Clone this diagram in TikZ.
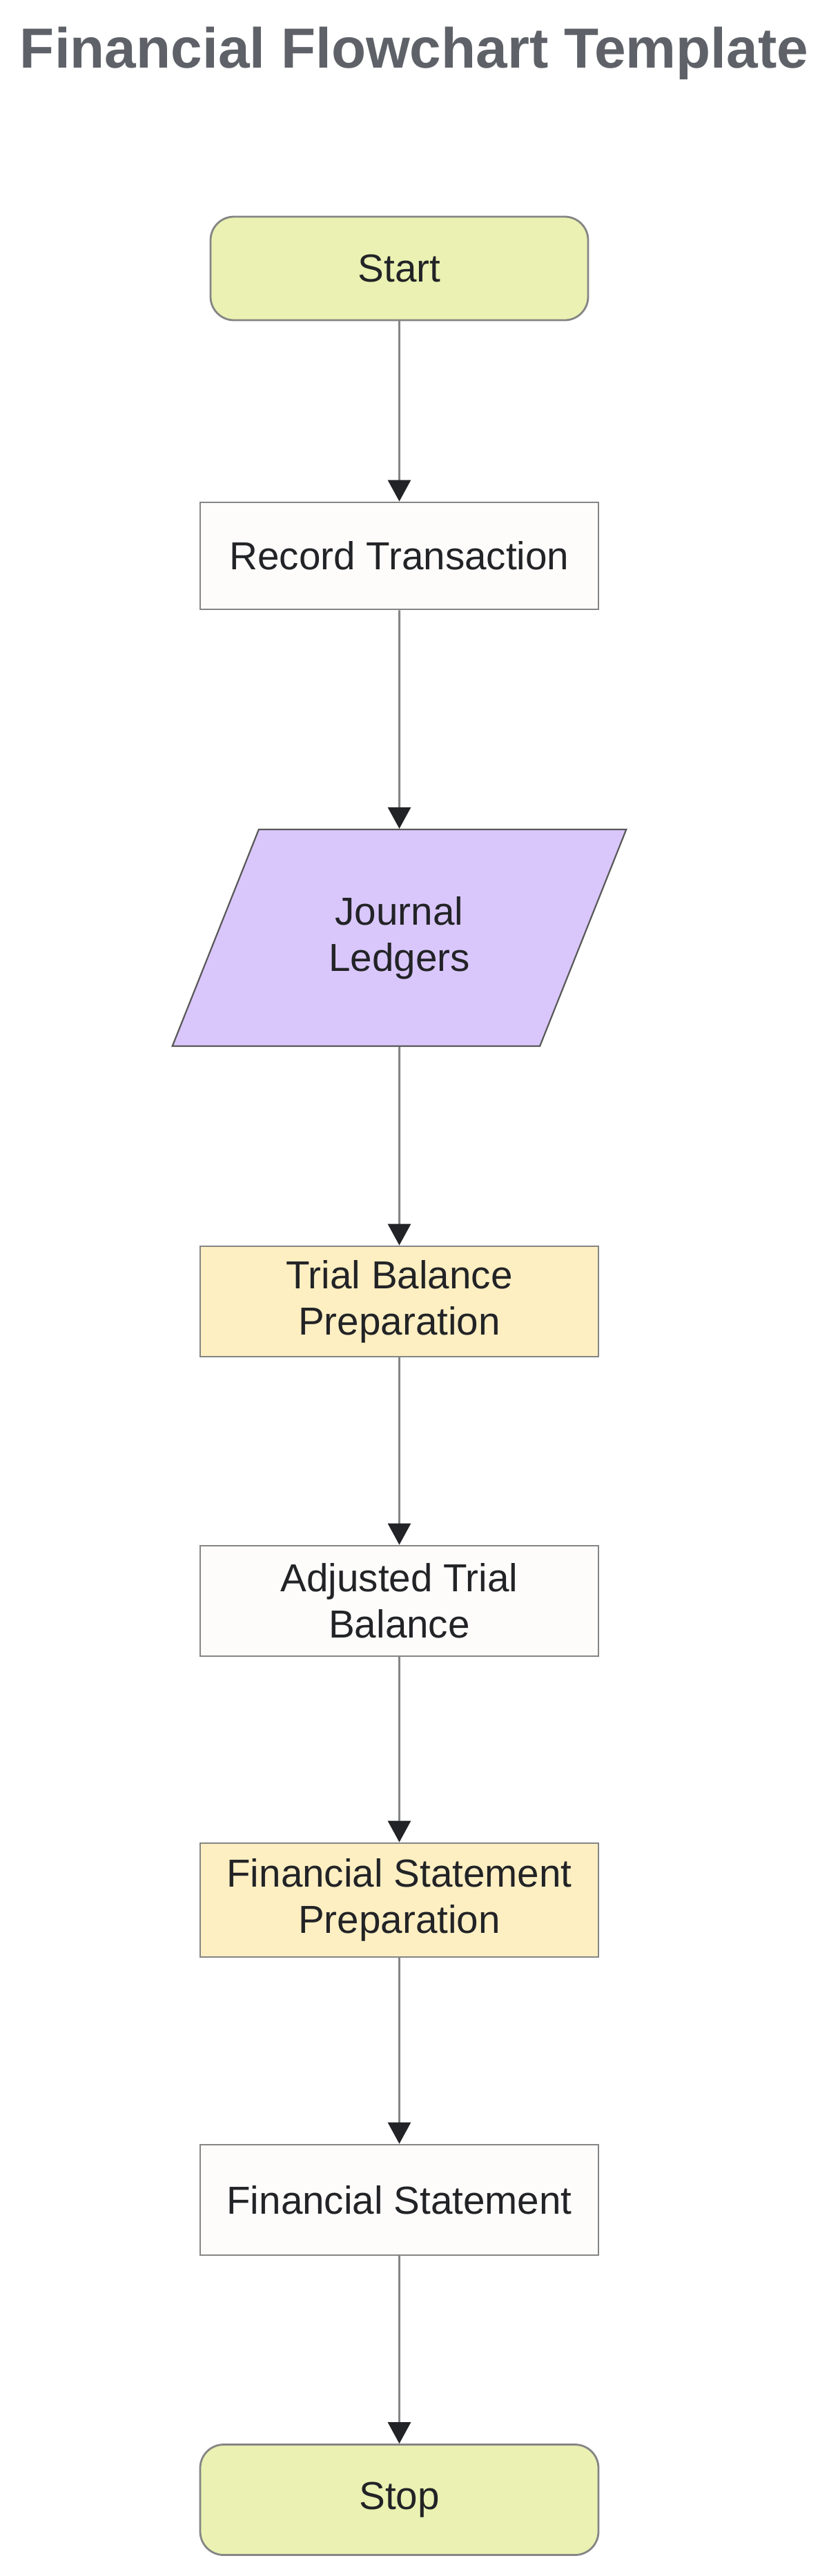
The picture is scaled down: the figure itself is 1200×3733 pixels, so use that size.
\documentclass[tikz,border=0pt]{standalone}
\usepackage{fontspec}
\setmainfont{Liberation Sans}
\usetikzlibrary{arrows.meta,shapes.geometric}

\definecolor{termfill}{HTML}{EAF1B2}
\definecolor{plainfill}{HTML}{FDFCFB}
\definecolor{iofill}{HTML}{D9C7FB}
\definecolor{prepfill}{HTML}{FDEFC2}
\definecolor{edgegray}{HTML}{858585}
\definecolor{tipblack}{HTML}{222326}
\definecolor{titlegray}{HTML}{5E6268}
\definecolor{labelink}{HTML}{222326}

\begin{document}
\begin{tikzpicture}[x=0.5pt,y=-0.5pt,
  box/.style={draw=edgegray, line width=1.4pt, minimum width=288.5pt, minimum height=80pt,
    inner sep=0pt, align=center, text=labelink, font=\fontsize{28.3}{33.5}\selectfont},
  term/.style={box, fill=termfill, rounded corners=17pt},
  plain/.style={box, fill=plainfill},
  prep/.style={box, fill=prepfill},
  io/.style={box, trapezium, trapezium left angle=62.3, trapezium right angle=117.7,
    trapezium stretches=true, fill=iofill, draw=black!65, line width=1.1pt,
    minimum width=329.5pt, minimum height=157pt},
  flow/.style={draw=edgegray, line width=1.5pt,
    -{Triangle[length=15.5pt,width=16.5pt,color=tipblack]}}]
\useasboundingbox (0,0) rectangle (1200,3733);

%title
\node[anchor=base, font=\bfseries\fontsize{41}{48}\selectfont, text=titlegray] (title) at (600,98) {Financial Flowchart Template};

%steps, top to bottom
\node[term, minimum width=273.5pt, minimum height=75pt] (start) at (578.5,389) {Start};
\node[plain, minimum height=77.5pt] (rec) at (578.5,805.5) {Record Transaction};
\node[io] (jl) at (578.5,1359) {Journal\\Ledgers};
\node[prep] (tb) at (578.5,1886) {Trial Balance\\Preparation};
\node[plain] (atb) at (578.5,2320) {Adjusted Trial\\Balance};
\node[prep, minimum height=82.5pt] (fsp) at (578.5,2753.5) {Financial Statement\\Preparation};
\node[plain] (fs) at (578.5,3188) {Financial Statement};
\node[term] (stop) at (578.5,3622.5) {Stop};

%connectors
\foreach \a/\b in {start/rec, rec/jl, jl/tb, tb/atb, atb/fsp, fsp/fs, fs/stop}
  \draw[flow] (\a) -- (\b);

\end{tikzpicture}
\end{document}
